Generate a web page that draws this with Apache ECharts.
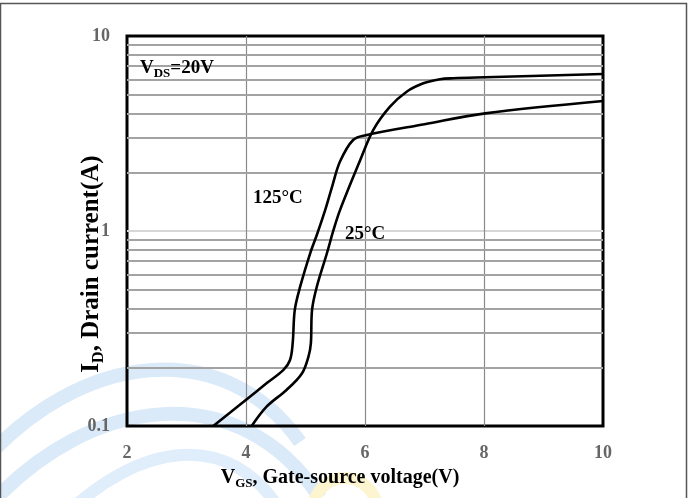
<!DOCTYPE html>
<html>
<head>
<meta charset="utf-8">
<script src="https://cdn.jsdelivr.net/npm/echarts@6/dist/echarts.min.js"></script>
<style>
  html, body { margin: 0; padding: 0; background: #fff; }
  #chart { width: 694px; height: 498px; }
</style>
</head>
<body>
<div id="chart"></div>
<script>
// Transfer characteristics: drain current vs gate-source voltage, VDS = 20 V
const vgsTicks = [2, 4, 6, 8, 10];
const idDecades = [0.1, 1, 10];
const idMinorLines = [0.2, 0.3, 0.4, 0.5, 0.6, 0.7, 0.8, 0.9, 2, 3, 4, 5, 6, 7, 8, 9];

// [VGS (V), ID (A)]
const curve125C = [
  [3.45, 0.1], [3.96, 0.133], [4.35, 0.166], [4.63, 0.194], [4.74, 0.218],
  [4.785, 0.267], [4.82, 0.394], [4.91, 0.518], [5.08, 0.771], [5.19, 0.954],
  [5.33, 1.28], [5.45, 1.7], [5.58, 2.27], [5.80, 2.93], [6.03, 3.11],
  [7.0, 3.53], [8.02, 4.01], [10, 4.64]
];
const curve25C = [
  [4.095, 0.1], [4.35, 0.126], [4.68, 0.153], [4.94, 0.186], [5.05, 0.227],
  [5.09, 0.265], [5.11, 0.394], [5.19, 0.518], [5.36, 0.769], [5.47, 1.01],
  [5.58, 1.28], [5.92, 2.31], [6.14, 3.30], [6.42, 4.34], [6.70, 5.18],
  [6.98, 5.72], [7.26, 6.0], [7.48, 6.07], [8.02, 6.14], [10, 6.38]
];

const serif = '"Liberation Serif", "Times New Roman", serif';
const chart = echarts.init(document.getElementById('chart'), null, { renderer: 'canvas' });

const curveStyle = { color: '#000', width: 2.6 };

chart.setOption({
  animation: false,
  backgroundColor: '#fff',
  graphic: [
    // faint logo swooshes behind the plot
    { type: 'bezierCurve', z: -10, silent: true,
      shape: { x1: -20, y1: 465, cpx1: 80, cpy1: 350, cpx2: 225, cpy2: 335, x2: 300, y2: 442 },
      style: { stroke: '#dbeaf9', lineWidth: 14, fill: null } },
    { type: 'bezierCurve', z: -10, silent: true,
      shape: { x1: -10, y1: 505, cpx1: 90, cpy1: 395, cpx2: 240, cpy2: 375, x2: 320, y2: 498 },
      style: { stroke: '#dbeaf9', lineWidth: 14, fill: null } },
    { type: 'bezierCurve', z: -10, silent: true,
      shape: { x1: 60, y1: 520, cpx1: 140, cpy1: 440, cpx2: 230, cpy2: 430, x2: 280, y2: 510 },
      style: { stroke: '#e0edfa', lineWidth: 12, fill: null } },
    { type: 'arc', z: -10, silent: true,
      shape: { cx: 345, cy: 510, r: 32, startAngle: Math.PI, endAngle: 2 * Math.PI },
      style: { stroke: '#fcf5cf', lineWidth: 12, fill: null } },
    // outer frame
    { type: 'rect', z: 0, silent: true,
      shape: { x: 0.5, y: 3.5, width: 686, height: 510 },
      style: { stroke: '#555', lineWidth: 1.5, fill: null } },
    // annotations
    { type: 'text', left: 140, top: 59, z: 10,
      style: {
        text: '{m|V}{s|DS}{m|=20V}',
        rich: {
          m: { fontFamily: serif, fontWeight: 'bold', fontSize: 19, fill: '#000', lineHeight: 24, verticalAlign: 'middle' },
          s: { fontFamily: serif, fontWeight: 'bold', fontSize: 13, fill: '#000', lineHeight: 24, verticalAlign: 'bottom', padding: [7, 0, 0, 0] }
        }
      } },
    { type: 'text', left: 253, top: 189, z: 10,
      style: { text: '125°C', font: 'bold 19px ' + serif, fill: '#000' } },
    { type: 'text', left: 345, top: 225, z: 10,
      style: { text: '25°C', font: 'bold 19px ' + serif, fill: '#000' } }
  ],
  grid: {
    left: 127, top: 36, right: 91, bottom: 72,
    show: true, borderColor: '#000', borderWidth: 3, backgroundColor: 'transparent'
  },
  xAxis: {
    type: 'value', min: 2, max: 10, interval: 2,
    axisLine: { show: false }, axisTick: { show: false },
    splitLine: { show: true, showMinLine: false, showMaxLine: false, lineStyle: { color: '#8a8a8a', width: 1.2 } },
    axisLabel: {
      margin: 18, color: '#666', fontFamily: serif, fontWeight: 'bold', fontSize: 18,
      customValues: vgsTicks
    },
    name: '{m|V}{s|GS}{m|, Gate-source voltage(V)}',
    nameLocation: 'middle', nameGap: 40, nameMoveOverlap: false,
    nameTextStyle: {
      padding: [0, 50, 0, 0],
      rich: {
        m: { fontFamily: serif, fontWeight: 'bold', fontSize: 20, color: '#000', lineHeight: 24, verticalAlign: 'middle' },
        s: { fontFamily: serif, fontWeight: 'bold', fontSize: 13, color: '#000', lineHeight: 24, verticalAlign: 'bottom', padding: [8, 0, 0, 0] }
      }
    }
  },
  yAxis: {
    type: 'log', logBase: 10, min: 0.1, max: 10,
    axisLine: { show: false }, axisTick: { show: false },
    splitLine: { show: true, showMinLine: false, showMaxLine: false, lineStyle: { color: '#d6d6d6', width: 2 } },
    axisLabel: {
      margin: 17, color: '#666', fontFamily: serif, fontWeight: 'bold', fontSize: 18,
      customValues: idDecades,
      formatter: v => String(v)
    },
    name: '{m|I}{s|D}{m|, Drain current(A)}',
    nameLocation: 'middle', nameGap: 20, nameRotate: 90, nameMoveOverlap: false,
    nameTextStyle: {
      padding: [0, 66, 0, 0],
      rich: {
        m: { fontFamily: serif, fontWeight: 'bold', fontSize: 25, color: '#000', lineHeight: 30, verticalAlign: 'middle' },
        s: { fontFamily: serif, fontWeight: 'bold', fontSize: 16, color: '#000', lineHeight: 30, verticalAlign: 'bottom', padding: [10, 0, 0, 0] }
      }
    }
  },
  series: [
    {
      name: 'minor grid', type: 'line', data: [], silent: true,
      markLine: {
        silent: true, symbol: ['none', 'none'], label: { show: false },
        lineStyle: { color: '#a3a3a3', width: 2, type: 'solid' },
        animation: false,
        data: idMinorLines.map(v => ({ yAxis: v }))
      }
    },
    {
      name: '125°C', type: 'line', data: curve125C, smooth: 0.35,
      showSymbol: false, lineStyle: curveStyle, z: 5
    },
    {
      name: '25°C', type: 'line', data: curve25C, smooth: 0.35,
      showSymbol: false, lineStyle: curveStyle, z: 5
    }
  ]
});
</script>
</body>
</html>
